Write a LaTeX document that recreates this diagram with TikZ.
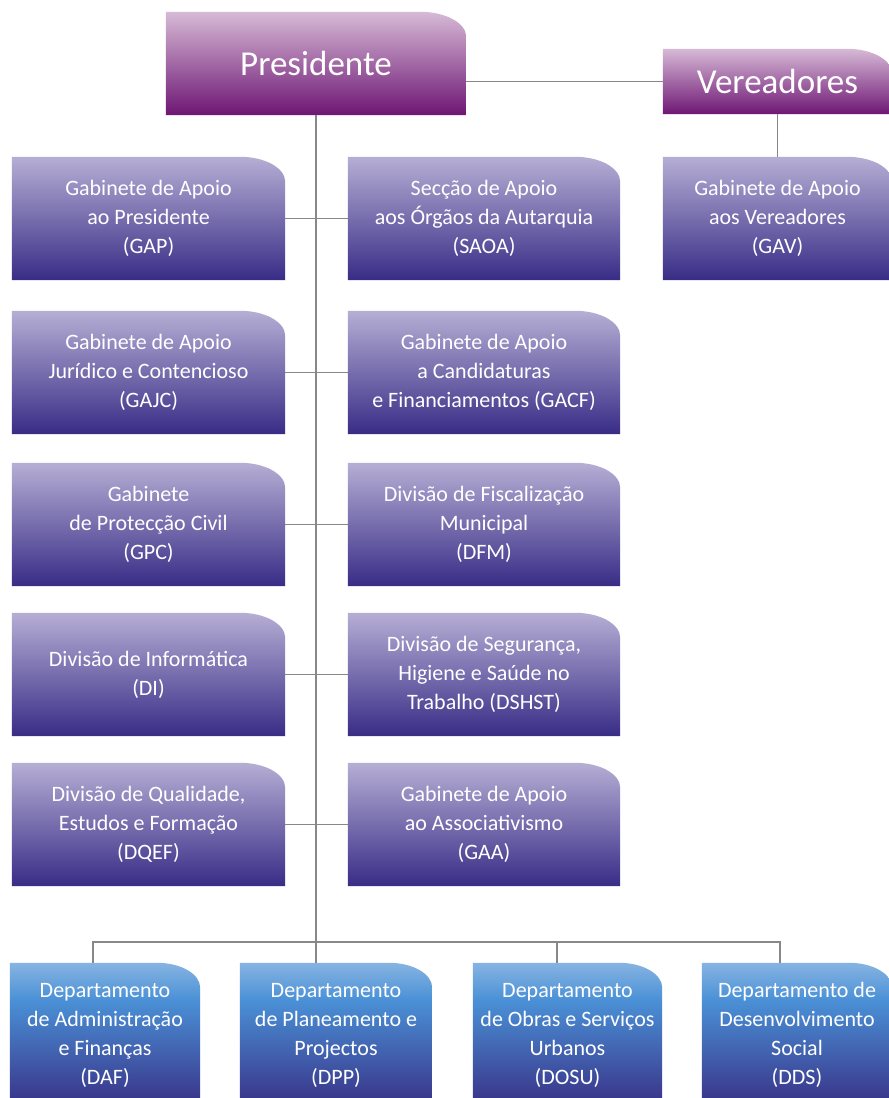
\documentclass[tikz,border=0pt]{standalone}
\usepackage{fontspec}
\setmainfont{Carlito}
\definecolor{plight}{RGB}{181,174,212}
\definecolor{pdark}{RGB}{56,44,134}
\definecolor{mlight}{RGB}{214,186,214}
\definecolor{mdark}{RGB}{110,22,116}
\definecolor{blight}{RGB}{134,180,226}
\definecolor{bmid}{RGB}{74,144,214}
\definecolor{bdark}{RGB}{58,56,140}
\definecolor{linegray}{RGB}{136,136,136}
\pgfdeclarelayer{bg}
\pgfsetlayers{bg,main}
\pgfdeclareverticalshading{bluesh}{100bp}{color(0bp)=(bdark); color(28bp)=(bdark); color(62bp)=(bmid); color(75bp)=(blight); color(100bp)=(blight)}
\tikzset{
  boxtext/.style={text=white, align=center, inner sep=0pt, font=\fontsize{22}{29}\selectfont},
  bigtext/.style={text=white, align=center, inner sep=0pt, font=\fontsize{35}{40}\selectfont},
  purp/.style={top color=plight, bottom color=pdark},
  mag/.style={top color=mlight, bottom color=mdark},
  blu/.style={shading=bluesh},
  conn/.style={draw=linegray, line width=1.4pt}
}
% name, cx, cy, w, h, shade style, corner dx, text style, text
\newcommand\obox[9]{%
  \node[#8, minimum width=#4pt, minimum height=#5pt] (#1) at (#2,#3) {#9};
  \begin{pgfonlayer}{bg}
    \shade[#6] (#1.south west) -- (#1.north west) -- ([xshift=-#7pt]#1.north east)
      arc[start angle=90, end angle=0, x radius=#7pt, y radius=25pt] -- (#1.south east) -- cycle;
  \end{pgfonlayer}}
\begin{document}
\begin{tikzpicture}[x=1pt,y=-1pt]
\begin{pgfonlayer}{bg}
\fill[white] (0,0) rectangle (889,1098);
\end{pgfonlayer}
\useasboundingbox (0,0) rectangle (889,1098);

\obox{pres}{316}{63.5}{300}{103}{mag}{46}{bigtext}{Presidente}
\obox{ver}{777.5}{81.5}{229}{65}{mag}{45}{bigtext}{Vereadores}
\obox{gav}{777.5}{218.5}{229}{123}{purp}{45}{boxtext}{Gabinete de Apoio\\aos Vereadores\\(GAV)}

\obox{gap}{148.5}{218.5}{273}{123}{purp}{45}{boxtext}{Gabinete de Apoio\\ao Presidente\\(GAP)}
\obox{saoa}{484}{218.5}{272}{123}{purp}{45}{boxtext}{Secção de Apoio\\aos Órgãos da Autarquia\\(SAOA)}
\obox{gajc}{148.5}{372.5}{273}{123}{purp}{45}{boxtext}{Gabinete de Apoio\\Jurídico e Contencioso\\(GAJC)}
\obox{gacf}{484}{372.5}{272}{123}{purp}{45}{boxtext}{Gabinete de Apoio\\a Candidaturas\\e Financiamentos (GACF)}
\obox{gpc}{148.5}{524.5}{273}{123}{purp}{45}{boxtext}{Gabinete\\de Protecção Civil\\(GPC)}
\obox{dfm}{484}{524.5}{272}{123}{purp}{45}{boxtext}{Divisão de Fiscalização\\Municipal\\(DFM)}
\obox{di}{148.5}{674.5}{273}{123}{purp}{45}{boxtext}{Divisão de Informática\\(DI)}
\obox{dshst}{484}{674.5}{272}{123}{purp}{45}{boxtext}{Divisão de Segurança,\\Higiene e Saúde no\\Trabalho (DSHST)}
\obox{dqef}{148.5}{824.5}{273}{123}{purp}{45}{boxtext}{Divisão de Qualidade,\\Estudos e Formação\\(DQEF)}
\obox{gaa}{484}{824.5}{272}{123}{purp}{45}{boxtext}{Gabinete de Apoio\\ao Associativismo\\(GAA)}

\obox{daf}{105}{1035}{190}{144}{blu}{43}{boxtext}{Departamento\\de Administração\\e Finanças\\(DAF)}
\obox{dpp}{336}{1035}{192}{144}{blu}{43}{boxtext}{Departamento\\de Planeamento e\\Projectos\\(DPP)}
\obox{dosu}{567.5}{1035}{189}{144}{blu}{43}{boxtext}{Departamento\\de Obras e Serviços\\Urbanos\\(DOSU)}
\obox{dds}{797}{1035}{190}{144}{blu}{43}{boxtext}{Departamento de\\Desenvolvimento\\Social\\(DDS)}

% connectors
\coordinate (j1) at (93,942);
\coordinate (j3) at (557,942);
\coordinate (j4) at (780,942);
\draw[conn] (pres.south) -- (pres.south |- dpp.north);
\draw[conn] (ver.west) -- (ver.west -| pres.east);
\draw[conn] (ver.south) -- (gav.north);
\draw[conn] (gap.east) -- (saoa.west);
\draw[conn] (gajc.east) -- (gacf.west);
\draw[conn] (gpc.east) -- (dfm.west);
\draw[conn] (di.east) -- (dshst.west);
\draw[conn] (dqef.east) -- (gaa.west);
\draw[conn] (j1 |- daf.north) -- (j1) -- (j4) -- (j4 |- dds.north);
\draw[conn] (j3) -- (j3 |- dosu.north);
\end{tikzpicture}
\end{document}
